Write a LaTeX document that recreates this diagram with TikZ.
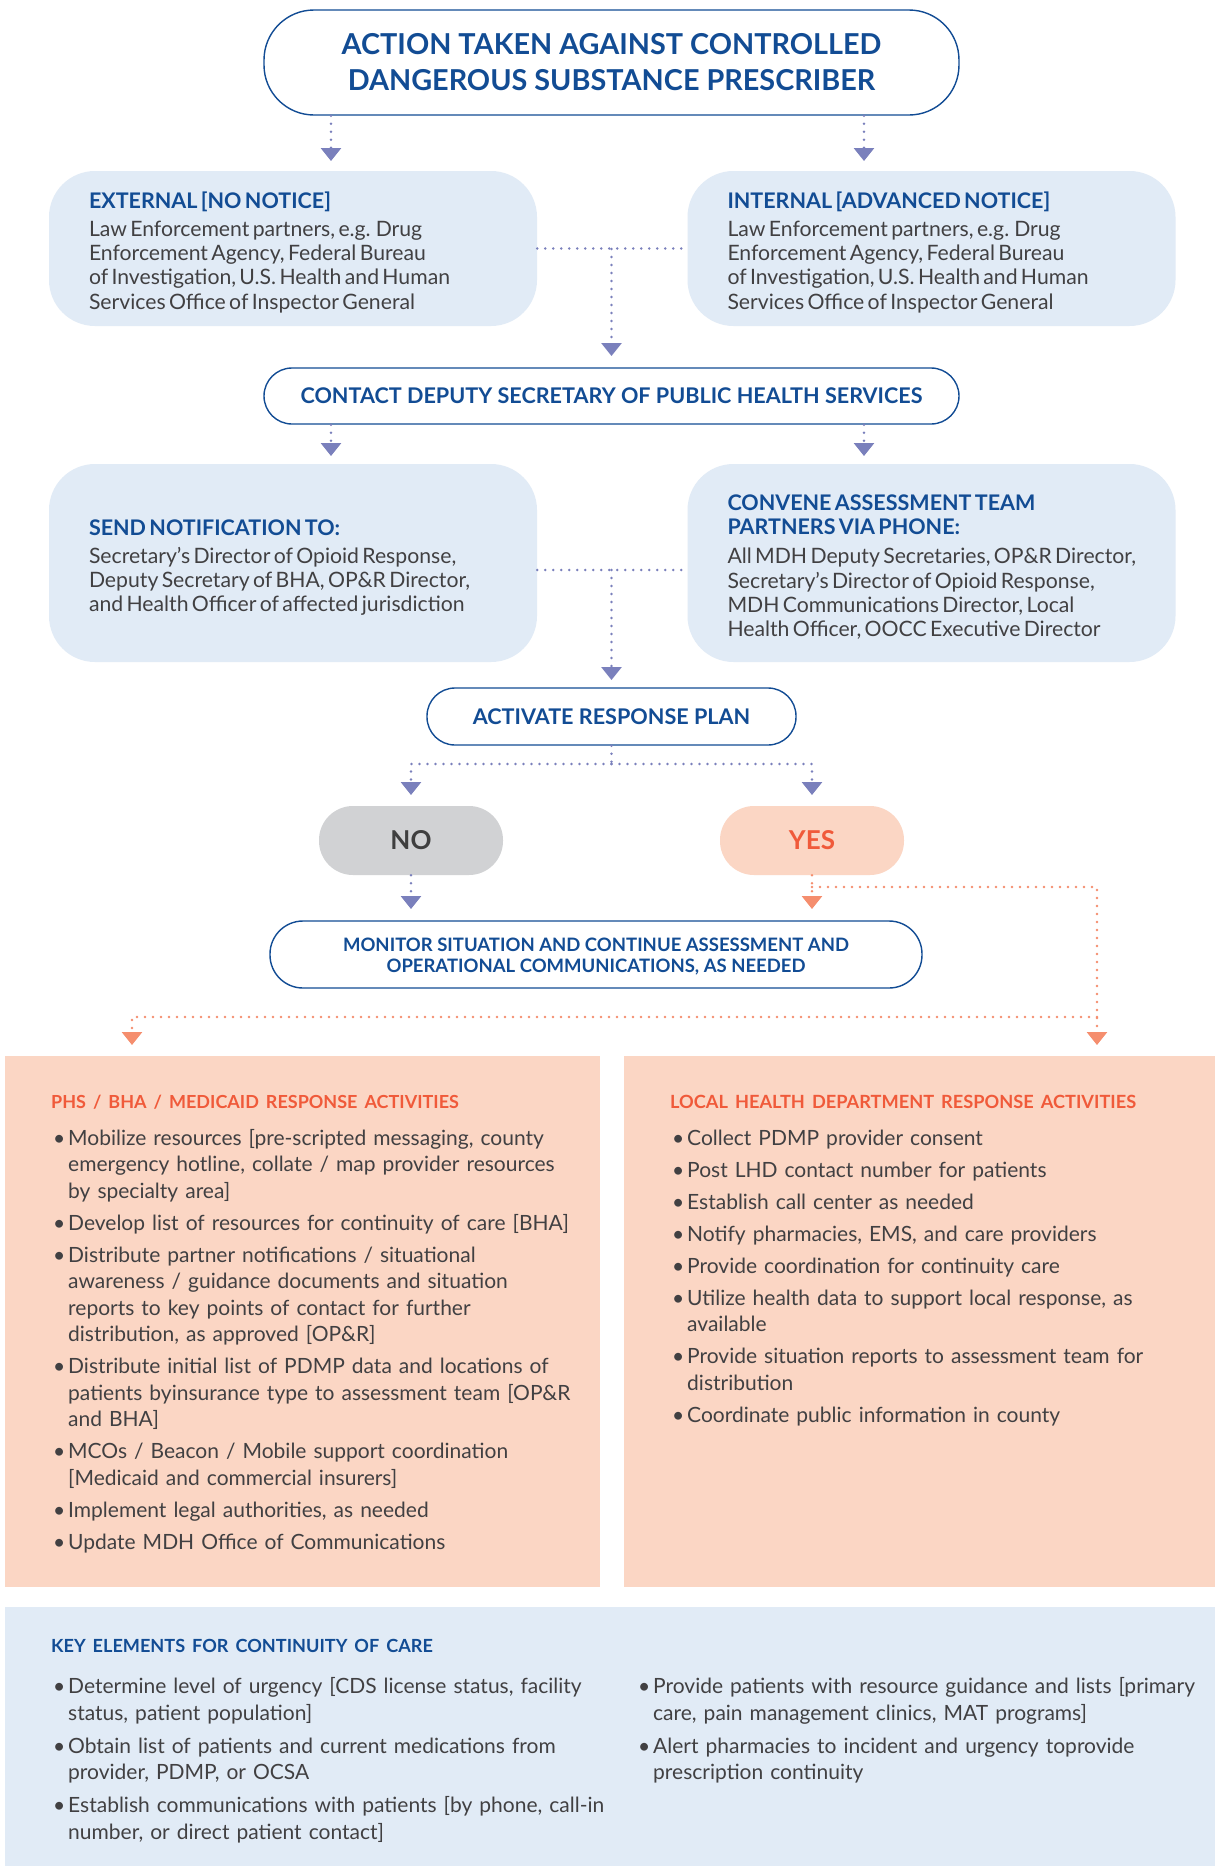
\documentclass[tikz,border=0pt]{standalone}
\usepackage{fontspec}
\setmainfont{Lato}
\usetikzlibrary{arrows.meta}
\definecolor{navy}{HTML}{124C94}
\definecolor{lblue}{HTML}{E1EBF6}
\definecolor{arrowc}{HTML}{7A80BC}
\definecolor{peach}{HTML}{FBD6C4}
\definecolor{orangetx}{HTML}{F05A3A}
\definecolor{orangearr}{HTML}{F58E6E}
\definecolor{bodytx}{HTML}{414042}
\definecolor{nogray}{HTML}{D1D2D4}
\definecolor{notx}{HTML}{3F3F3F}
\newcommand\bul[1]{\par\hangindent=17pt\hangafter=1\noindent\hspace*{2pt}\makebox[15pt][l]{•}#1\par\vspace{5.5pt}}
\newcommand\bulb[1]{\par\hangindent=17pt\hangafter=1\noindent\hspace*{2pt}\makebox[15pt][l]{•}#1\par\vspace{6.5pt}}
\newcommand\boxtop{\leftskip=26pt\rule{0pt}{24pt}}
\tikzset{
  wbox/.style={draw=navy, line width=1.4pt, fill=white, text=navy, align=center, inner sep=0pt},
  lbox/.style={fill=lblue, rounded corners=46pt, minimum width=488pt, inner sep=0pt, text width=460pt, align=left, text=bodytx},
  pill/.style={rounded corners=34pt, minimum width=184pt, minimum height=69pt, inner sep=0pt, font=\bfseries\fontsize{26}{30}\selectfont},
  dline/.style={arrowc, line width=2.8pt, dash pattern=on 0pt off 8pt, line cap=round},
  darr/.style={dline, -{Triangle[width=20pt,length=13pt]}},
  oline/.style={orangearr, line width=2.8pt, dash pattern=on 0pt off 8pt, line cap=round},
  oarr/.style={oline, -{Triangle[width=20pt,length=13pt]}},
  listtx/.style={anchor=north west, inner sep=0pt, align=left, text=bodytx, font=\fontsize{21}{26.5}\selectfont}
}
\begin{document}
\begin{tikzpicture}[x=1pt,y=-1pt]
\useasboundingbox (0,0) rectangle (1215,1866);
\fill[white] (0,0) rectangle (1215,1866);

% title
\node[wbox, rounded corners=50pt, minimum width=695pt, minimum height=105pt, font=\bfseries\fontsize{28.8}{36}\selectfont] (title) at (611.5,62.5)
  {ACTION TAKEN AGAINST CONTROLLED\\DANGEROUS SUBSTANCE PRESCRIBER};

% external / internal
\node[lbox, minimum height=155pt] (ext) at (293,248.5)
  {\boxtop{\fontsize{21.5}{24}\selectfont\bfseries\color{navy}EXTERNAL [NO NOTICE]\par}\vspace{4pt}
   {\fontsize{21.2}{24.3}\selectfont Law Enforcement partners, e.g. Drug\\Enforcement Agency, Federal Bureau\\of Investigation, U.S. Health and Human\\Services Office of Inspector General\par}};
\node[lbox, minimum height=155pt] (int) at (931.5,248.5)
  {\boxtop{\fontsize{21.5}{24}\selectfont\bfseries\color{navy}INTERNAL [ADVANCED NOTICE]\par}\vspace{4pt}
   {\fontsize{21.2}{24.3}\selectfont Law Enforcement partners, e.g. Drug\\Enforcement Agency, Federal Bureau\\of Investigation, U.S. Health and Human\\Services Office of Inspector General\par}};

% contact
\node[wbox, rounded corners=28pt, minimum width=695pt, minimum height=56pt, font=\bfseries\fontsize{21.6}{24}\selectfont] (contact) at (611.5,396)
  {CONTACT DEPUTY SECRETARY OF PUBLIC HEALTH SERVICES};

% send / convene
\node[lbox, minimum height=198pt] (send) at (293,563)
  {\boxtop{\fontsize{21.5}{24}\selectfont\bfseries\color{navy}SEND NOTIFICATION TO:\par}\vspace{5pt}
   {\fontsize{21.2}{23.7}\selectfont Secretary’s Director of Opioid Response,\\Deputy Secretary of BHA, OP\&R Director,\\and Health Officer of affected jurisdiction\par}};
\node[lbox, minimum height=198pt] (conv) at (931.5,563)
  {\boxtop{\fontsize{21.5}{24}\selectfont\bfseries\color{navy}CONVENE ASSESSMENT TEAM\\PARTNERS VIA PHONE:\par}\vspace{5pt}
   {\fontsize{21.2}{24.3}\selectfont All MDH Deputy Secretaries, OP\&R Director,\\Secretary’s Director of Opioid Response,\\MDH Communications Director, Local\\Health Officer, OOCC Executive Director\par}};

% activate
\node[wbox, rounded corners=28pt, minimum width=369pt, minimum height=57pt, font=\bfseries\fontsize{21.6}{24}\selectfont] (act) at (611.5,716.5)
  {ACTIVATE RESPONSE PLAN};

% no / yes
\node[pill, fill=nogray, text=notx] (no) at (411,840.5) {NO};
\node[pill, fill=peach, text=orangetx] (yes) at (812,840.5) {YES};

% monitor
\node[wbox, rounded corners=33pt, minimum width=652pt, minimum height=67pt, font=\bfseries\fontsize{18.5}{21}\selectfont] (mon) at (596,954.5)
  {\rule{0pt}{17pt}MONITOR SITUATION AND CONTINUE ASSESSMENT AND\\OPERATIONAL COMMUNICATIONS, AS NEEDED};

% peach boxes
\node[fill=peach, minimum width=595pt, minimum height=531pt, inner sep=0pt] (phs) at (302.5,1321.5) {};
\node[fill=peach, minimum width=591pt, minimum height=531pt, inner sep=0pt] (lhd) at (919.5,1321.5) {};
\node[fill=lblue, minimum width=1210pt, minimum height=259pt, inner sep=0pt] (key) at (610,1736.5) {};

\node[listtx, text width=545pt] (phstx) at (51,1095)
  {{\fontsize{18}{20}\selectfont\bfseries\color{orangetx}PHS / BHA / MEDICAID RESPONSE ACTIVITIES\par}\vspace{10pt}
   \bul{Mobilize resources [pre-scripted messaging, county\newline emergency hotline, collate / map provider resources\newline by specialty area]}
   \bul{Develop list of resources for continuity of care [BHA]}
   \bul{Distribute partner notifications / situational\newline awareness / guidance documents and situation\newline reports to key points of contact for further\newline distribution, as approved [OP\&R]}
   \bul{Distribute initial list of PDMP data and locations of\newline patients byinsurance type to assessment team [OP\&R\newline and BHA]}
   \bul{MCOs / Beacon / Mobile support coordination\newline [Medicaid and commercial insurers]}
   \bul{Implement legal authorities, as needed}
   \bul{Update MDH Office of Communications}};

\node[listtx, text width=540pt] (lhdtx) at (670,1095)
  {{\fontsize{18.2}{20}\selectfont\bfseries\color{orangetx}LOCAL HEALTH DEPARTMENT RESPONSE ACTIVITIES\par}\vspace{10pt}
   \bul{Collect PDMP provider consent}
   \bul{Post LHD contact number for patients}
   \bul{Establish call center as needed}
   \bul{Notify pharmacies, EMS, and care providers}
   \bul{Provide coordination for continuity care}
   \bul{Utilize health data to support local response, as\newline available}
   \bul{Provide situation reports to assessment team for\newline distribution}
   \bul{Coordinate public information in county}};

\node[listtx, text width=580pt] (keytx) at (51,1639)
  {{\fontsize{18.1}{20}\selectfont\bfseries\color{navy}KEY ELEMENTS FOR CONTINUITY OF CARE\par}\vspace{15pt}
   \bulb{Determine level of urgency [CDS license status, facility\newline status, patient population]}
   \bulb{Obtain list of patients and current medications from\newline provider, PDMP, or OCSA}
   \bulb{Establish communications with patients [by phone, call-in\newline number, or direct patient contact]}};
\node[listtx, text width=570pt] (keytx2) at (636,1667)
  {\bulb{Provide patients with resource guidance and lists [primary\newline care, pain management clinics, MAT programs]}
   \bulb{Alert pharmacies to incident and urgency toprovide\newline prescription continuity}};

% connectors
\coordinate (t1) at (331,161);
\coordinate (t2) at (864,161);
\draw[darr] (title.south -| t1) -- (t1);
\draw[darr] (title.south -| t2) -- (t2);

\coordinate (j1) at (611.5,249);
\coordinate (j1t) at (611.5,356);
\draw[dline] (ext.east) -- (int.west);
\draw[darr] (j1) -- (j1t);

\coordinate (c1) at (331,456);
\coordinate (c2) at (864,456);
\draw[darr] (contact.south -| c1) -- (c1);
\draw[darr] (contact.south -| c2) -- (c2);

\coordinate (j2) at (611.5,570);
\coordinate (j2t) at (611.5,680);
\draw[dline] (send.east |- j2) -- (conv.west |- j2);
\draw[darr] (j2) -- (j2t);

\coordinate (j3) at (611.5,764);
\coordinate (nol) at (411,764);
\coordinate (yesl) at (812,764);
\coordinate (notip) at (411,795);
\coordinate (yestip) at (812,795);
\draw[dline] (act.south) -- (j3);
\draw[darr] (j3) -- (nol) -- (notip);
\draw[darr] (j3) -- (yesl) -- (yestip);

\coordinate (no2) at (411,909);
\coordinate (yes2) at (812,909);
\draw[darr] (no.south) -- (no2);
\draw[oarr] (yes.south) -- (yes2);

\coordinate (yj) at (812,887);
\coordinate (yr) at (1097,887);
\coordinate (rtip) at (1097,1045);
\coordinate (lj) at (1097,1017);
\coordinate (ll) at (132,1017);
\coordinate (ltip) at (132,1045);
\draw[oarr] (yj) -- (yr) -- (rtip);
\draw[oarr] (lj) -- (ll) -- (ltip);
\end{tikzpicture}
\end{document}
